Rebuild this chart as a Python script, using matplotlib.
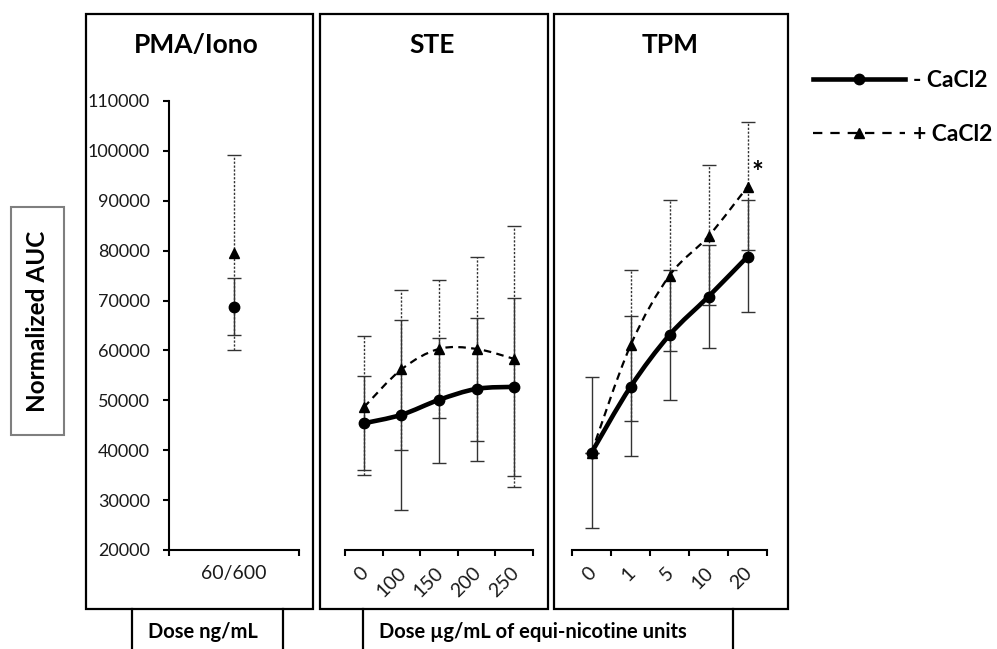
import numpy as np
import matplotlib
matplotlib.use("Agg")
import matplotlib.pyplot as plt
from matplotlib.path import Path
from matplotlib.patches import PathPatch, Rectangle
from matplotlib.lines import Line2D
from matplotlib.transforms import ScaledTranslation

plt.rcParams['font.family'] = ['Lato', 'DejaVu Sans']

# ---------------- data ----------------
pma_labels = ["60/600"]
pma_minus = [68800]
pma_minus_lo = [63000]
pma_minus_hi = [74500]
pma_plus = [79500]
pma_plus_lo = [60000]
pma_plus_hi = [99200]

ste_labels = ["0", "100", "150", "200", "250"]
ste_minus = [45400, 47100, 50100, 52300, 52700]
ste_minus_lo = [36000, 28000, 37500, 37800, 34900]
ste_minus_hi = [54900, 66100, 62500, 66500, 70500]
ste_plus = [48600, 56200, 60300, 60300, 58300]
ste_plus_lo = [35100, 40100, 46500, 41800, 32600]
ste_plus_hi = [62800, 72200, 74200, 78700, 84900]

tpm_labels = ["0", "1", "5", "10", "20"]
tpm_minus = [39500, 52700, 63100, 70800, 78800]
tpm_minus_lo = [24400, 38800, 50100, 60400, 67800]
tpm_minus_hi = [54700, 66900, 76100, 81100, 90200]
tpm_plus = [39500, 61000, 75000, 82900, 92800]
tpm_plus_lo = [39500, 45900, 59800, 69100, 80100]
tpm_plus_hi = [39500, 76100, 90200, 97200, 105800]

y_ticks = [20000, 30000, 40000, 50000, 60000, 70000, 80000, 90000, 100000, 110000]

W, H = 997, 649
fig = plt.figure(figsize=(W / 100, H / 100), dpi=100)


def rect(x0, y0, x1, y1):
    return [x0 / W, 1 - y1 / H, (x1 - x0) / W, (y1 - y0) / H]


def smooth_path(x, y):
    x = np.asarray(x, float)
    y = np.asarray(y, float)
    verts = [(x[0], y[0])]
    codes = [Path.MOVETO]
    n = len(x)
    for i in range(n - 1):
        xm1, ym1 = (x[i - 1], y[i - 1]) if i > 0 else (x[i], y[i])
        xp2, yp2 = (x[i + 2], y[i + 2]) if i + 2 < n else (x[i + 1], y[i + 1])
        c1 = (x[i] + (x[i + 1] - xm1) / 6, y[i] + (y[i + 1] - ym1) / 6)
        c2 = (x[i + 1] - (xp2 - x[i]) / 6, y[i + 1] - (yp2 - y[i]) / 6)
        verts += [c1, c2, (x[i + 1], y[i + 1])]
        codes += [Path.CURVE4] * 3
    return Path(verts, codes)


DASH = (0, (3.4, 2.4))
ERRDASH = (0, (1.6, 1.2))
ERRCOL = '#333333'


def draw_series(ax, mean, lo, hi, kind):
    x = np.arange(len(mean))
    mean = np.asarray(mean, float)
    yerr = [mean - np.asarray(lo, float), np.asarray(hi, float) - mean]
    if kind == 'minus':
        eb = ax.errorbar(x, mean, yerr=yerr, fmt='none', ecolor=ERRCOL,
                         elinewidth=1.0, capsize=5, capthick=1.0, zorder=2)
    else:
        eb = ax.errorbar(x, mean, yerr=yerr, fmt='none', ecolor=ERRCOL,
                         elinewidth=1.0, capsize=5, capthick=1.0, zorder=1)
        for c in eb[2]:
            c.set_linestyle(ERRDASH)
    if len(mean) > 1:
        p = smooth_path(x, mean)
        if kind == 'minus':
            patch = PathPatch(p, fill=False, lw=3.3, edgecolor='black',
                              capstyle='round', joinstyle='round', zorder=4)
        else:
            patch = PathPatch(p, fill=False, lw=1.6, edgecolor='black',
                              linestyle=DASH, zorder=3)
        ax.add_patch(patch)
    if kind == 'minus':
        ax.plot(x, mean, 'o', color='black', ms=7.5, zorder=6, ls='none')
    else:
        ax.plot(x, mean, '^', color='black', ms=7, zorder=5, ls='none')


def setup_axes(ax, labels, show_y, rot):
    n = len(labels)
    ax.set_xlim(-0.5, n - 0.5)
    ax.set_ylim(20000, 110000)
    for s in ['top', 'right']:
        ax.spines[s].set_visible(False)
    ax.spines['bottom'].set_linewidth(1.5)
    ax.spines['left'].set_linewidth(1.5)
    ax.set_xticks(np.arange(n))
    ax.set_xticks(np.arange(n + 1) - 0.5, minor=True)
    ax.tick_params(axis='x', which='major', length=0, pad=10 if rot else 11,
                   labelsize=14, labelcolor='#1a1a1a')
    ax.tick_params(axis='x', which='minor', length=4.5, width=1.5, direction='out')
    if rot:
        ax.set_xticklabels(labels, rotation=45, ha='right', va='top')
        off = ScaledTranslation(8 / 100, 0, fig.dpi_scale_trans)
        for t in ax.get_xticklabels():
            t.set_transform(t.get_transform() + off)
    else:
        ax.set_xticklabels(labels)
    if show_y:
        ax.set_yticks(y_ticks)
        ax.set_yticklabels([str(v) for v in y_ticks])
        ax.tick_params(axis='y', length=4.5, width=1.5, direction='out', pad=9,
                       labelsize=13, labelcolor='#1a1a1a')
    else:
        ax.spines['left'].set_visible(False)
        ax.set_yticks([])
    ax.patch.set_alpha(0)


# panel frames
frame_ax = fig.add_axes([0, 0, 1, 1])
frame_ax.set_xlim(0, W)
frame_ax.set_ylim(H, 0)
frame_ax.axis('off')
for (x0, x1) in [(86, 313), (320, 548), (554, 788)]:
    frame_ax.add_patch(Rectangle((x0, 14), x1 - x0, 609 - 14, fill=False,
                                 lw=1.6, edgecolor='black'))
for (x0, x1) in [(132, 283), (363, 733)]:
    frame_ax.plot([x0, x0], [609, H + 2], color='black', lw=1.6)
    frame_ax.plot([x1, x1], [609, H + 2], color='black', lw=1.6)
frame_ax.add_patch(Rectangle((11, 207), 53, 228, fill=False, lw=1.5,
                             edgecolor='#7f7f7f'))
frame_ax.text(37.5, 321, "Normalized AUC", rotation=90, ha='center',
              va='center', fontsize=17.5, fontweight='bold')
frame_ax.text(196, 45, "PMA/Iono", ha='center', va='center', fontsize=19,
              fontweight='bold')
frame_ax.text(432, 45, "STE", ha='center', va='center', fontsize=19,
              fontweight='bold')
frame_ax.text(670, 45, "TPM", ha='center', va='center', fontsize=19,
              fontweight='bold')
frame_ax.text(203, 632, "Dose ng/mL", ha='center', va='center', fontsize=14.5,
              fontweight='bold')
frame_ax.text(533, 632, "Dose µg/mL of equi-nicotine units", ha='center',
              va='center', fontsize=14.5, fontweight='bold')

ax1 = fig.add_axes(rect(169, 101, 299, 550))
ax2 = fig.add_axes(rect(345, 101, 533, 550))
ax3 = fig.add_axes(rect(572, 101, 767, 550))

setup_axes(ax1, pma_labels, True, False)
setup_axes(ax2, ste_labels, False, True)
setup_axes(ax3, tpm_labels, False, True)

draw_series(ax1, pma_plus, pma_plus_lo, pma_plus_hi, 'plus')
draw_series(ax1, pma_minus, pma_minus_lo, pma_minus_hi, 'minus')
draw_series(ax2, ste_plus, ste_plus_lo, ste_plus_hi, 'plus')
draw_series(ax2, ste_minus, ste_minus_lo, ste_minus_hi, 'minus')
draw_series(ax3, tpm_plus, tpm_plus_lo, tpm_plus_hi, 'plus')
draw_series(ax3, tpm_minus, tpm_minus_lo, tpm_minus_hi, 'minus')

ax3.annotate("*", xy=(len(tpm_plus) - 1, tpm_plus[-1]), xytext=(7, 10),
             textcoords='offset points', ha='center', va='center',
             fontsize=20, fontweight='bold')

for ax in (ax1, ax2, ax3):
    for c in ax.get_children():
        c.set_clip_on(False)

handles = [
    Line2D([], [], color='black', lw=3.3, marker='o', ms=7.5),
    Line2D([], [], color='black', lw=1.6, ls=(0, (4.2, 3.6)), marker='^', ms=7),
]
fig.legend(handles, ["- CaCl2", "+ CaCl2"], loc='upper left',
           bbox_to_anchor=(813 / W, 1 - 70 / H), frameon=False,
           prop={'size': 16.5, 'weight': 'bold'}, handlelength=4.0,
           handletextpad=0.35, labelspacing=1.45, borderpad=0,
           borderaxespad=0)

fig.savefig("out.png", dpi=100)
